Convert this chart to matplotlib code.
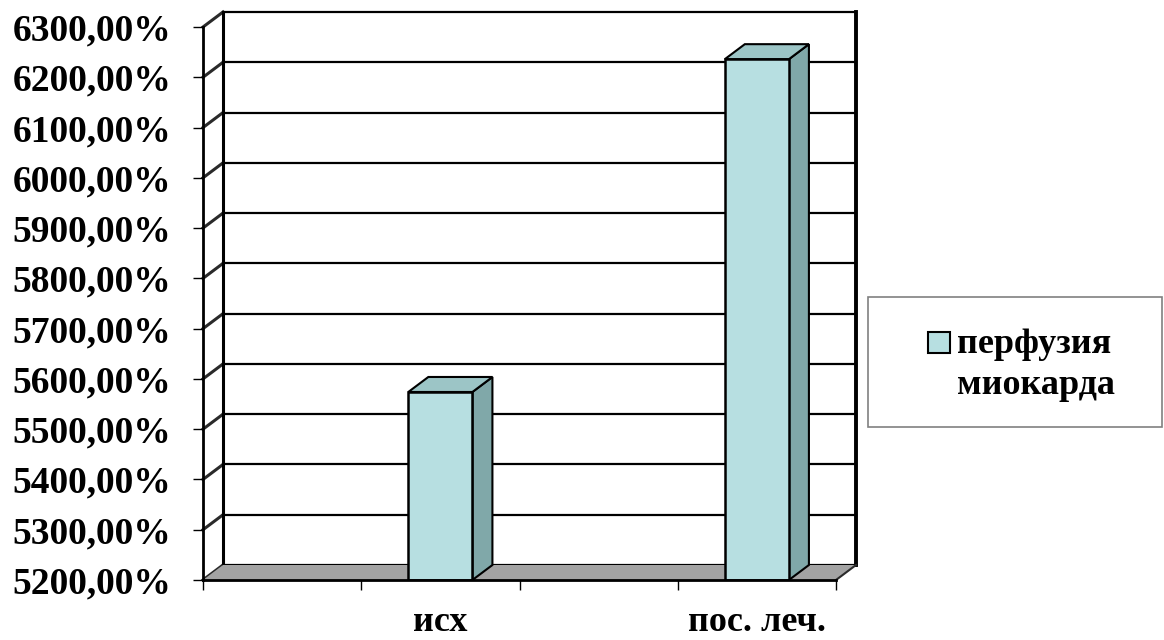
import numpy as np
import matplotlib
matplotlib.use("Agg")
import matplotlib.pyplot as plt
from matplotlib.patches import Polygon, Rectangle

plt.rcParams.update({
    'font.family': 'Liberation Serif',
    'font.weight': 'bold',
    'font.size': 27,
})

# data (Excel layout has 4 category slots, two of them empty)
categories = ['', 'исх', '', 'пос. леч.']
values = [np.nan, 5574, np.nan, 6236]
series_name = 'перфузия\nмиокарда'
y_min, y_max, y_step = 5200, 6300, 100

front_col = '#b7dfe1'
side_col = '#80a8a9'
top_col = '#9cc5c6'
floor_col = '#a3a3a3'

W, H = 1164, 640
fig = plt.figure(figsize=(W / 100, H / 100), dpi=100)
# front plane of the 3D box, in pixels: x 203..836, y 27..580 (from top)
ax = fig.add_axes([203 / W, (H - 580) / H, 633 / W, 553 / H])
ax.set_xlim(0, len(categories))
ax.set_ylim(y_min, y_max)
for s in ax.spines.values():
    s.set_visible(False)
ax.patch.set_visible(False)

# depth offset (20 px right, 15 px up) in data units
DX = 20 * len(categories) / 633
DY = 15 * (y_max - y_min) / 553
x0, x1 = 0, len(categories)
yticks = np.arange(y_min, y_max + 1, y_step)

# back wall gridlines + diagonal connectors on the left wall
for y in yticks:
    ax.plot([x0 + DX, x1 + DX], [y + DY, y + DY], color='black', lw=1.6, zorder=1, clip_on=False)
    ax.plot([x0, x0 + DX], [y, y + DY], color='#2a2a2a', lw=2.2, zorder=1, clip_on=False)
ax.plot([x0 + DX, x0 + DX], [y_min + DY, y_max + DY], color='black', lw=2.2, zorder=1, clip_on=False)
ax.plot([x1 + DX, x1 + DX], [y_min + DY, y_max + DY], color='black', lw=2.8, zorder=1, clip_on=False)

# floor
floor = Polygon([(x0, y_min), (x1, y_min), (x1 + DX, y_min + DY), (x0 + DX, y_min + DY)],
                closed=True, facecolor=floor_col, edgecolor='none', zorder=2, clip_on=False)
ax.add_patch(floor)
ax.plot([x1, x1 + DX], [y_min, y_min + DY], color='#2a2a2a', lw=1.5, zorder=2, clip_on=False)

# bars
xs = np.arange(len(categories)) + 0.5
bw = 0.405
for x, v in zip(xs, values):
    if np.isnan(v):
        continue
    side = Polygon([(x + bw / 2, y_min), (x + bw / 2 + DX, y_min + DY),
                    (x + bw / 2 + DX, v + DY), (x + bw / 2, v)],
                   closed=True, facecolor=side_col, edgecolor='black', lw=1.5, zorder=3, clip_on=False)
    top = Polygon([(x - bw / 2, v), (x + bw / 2, v), (x + bw / 2 + DX, v + DY), (x - bw / 2 + DX, v + DY)],
                  closed=True, facecolor=top_col, edgecolor='black', lw=1.5, zorder=3, clip_on=False)
    ax.add_patch(side)
    ax.add_patch(top)
ax.bar(xs, np.array(values) - y_min, bottom=y_min, width=bw, color=front_col,
       edgecolor='black', linewidth=1.8, zorder=4)

# front axes lines
ax.plot([x0, x0], [y_min, y_max], color='black', lw=2, zorder=5, clip_on=False)
ax.plot([x0, x1], [y_min, y_min], color='black', lw=2, zorder=5, clip_on=False)

# ticks
ax.set_yticks(yticks)
ax.set_yticklabels([f'{v:.2f}%'.replace('.', ',') for v in yticks])
ax.tick_params(axis='y', direction='out', length=7.2, width=1, pad=15.5)
ax.set_xticks(np.arange(len(categories) + 1))
ax.set_xticklabels([])
ax.tick_params(axis='x', which='major', direction='out', length=7.2, width=1)
ax.set_xticks(xs, minor=True)
ax.set_xticklabels(categories, minor=True, fontsize=26)
ax.tick_params(axis='x', which='minor', length=0, pad=19)

# legend box
fig.patches.append(Rectangle((868 / W, (H - 427) / H), 294 / W, 130 / H, transform=fig.transFigure,
                             facecolor='white', edgecolor='#808080', lw=1.2))
fig.patches.append(Rectangle((928 / W, (H - 353) / H), 22 / W, 21 / H, transform=fig.transFigure,
                             facecolor=front_col, edgecolor='black', lw=1.5))
line1, line2 = series_name.split('\n')
fig.text(957 / W, (H - 353) / H, line1, ha='left', va='baseline', fontsize=26)
fig.text(957 / W, (H - 394) / H, line2, ha='left', va='baseline', fontsize=26)

fig.savefig('out.png', dpi=100)
